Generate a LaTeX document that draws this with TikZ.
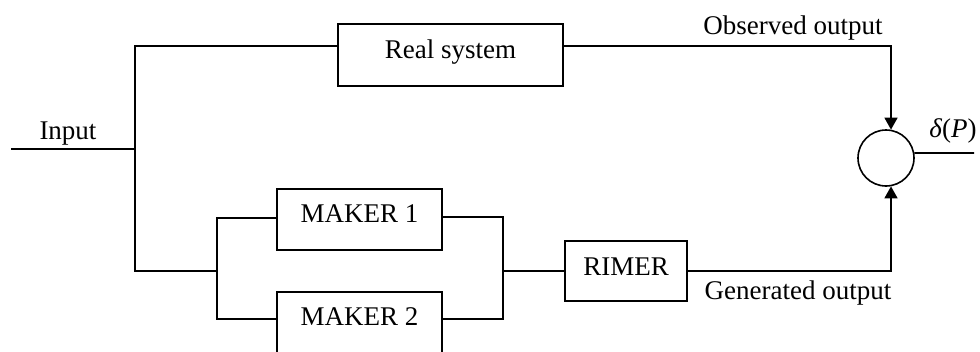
\documentclass[tikz,border=0pt]{standalone}
\usepackage{fontspec}
\setmainfont{Liberation Serif}
\usetikzlibrary{arrows.meta,calc}
\begin{document}
\begin{tikzpicture}[x=1pt,y=-1pt,line width=1.6pt,
  box/.style={draw,line width=1.6pt,inner sep=0pt},
  lbl/.style={anchor=base,inner sep=0pt,font=\fontsize{27}{32}\selectfont},
  arr/.style={-{Triangle[length=12pt,width=13pt]}}]
\useasboundingbox (0,0) rectangle (980,351);
% blocks
\node[box,minimum width=225pt,minimum height=62pt] (rs) at (450.5,55) {};
\node[box,minimum width=165pt,minimum height=61pt] (m1) at (359.5,219.5) {};
\node[box,minimum width=165pt,minimum height=61pt] (m2) at (359.5,322.5) {};
\node[box,minimum width=122pt,minimum height=60pt] (ri) at (626,271) {};
\node[draw,circle,minimum size=56pt,inner sep=0pt] (c) at (886,158) {};
% texts
\node[lbl] (trs) at (450.5,58) {Real system};
\node[lbl] (tm1) at (359.5,222) {MAKER 1};
\node[lbl] (tm2) at (359.5,325) {MAKER 2};
\node[lbl] (tri) at (626,275) {RIMER};
\node[lbl] (tin) at (68,139) {Input};
\node[lbl] (tob) at (793,34) {Observed output};
\node[lbl] (tge) at (798,299) {Generated output};
\node[lbl] (tdp) at (953,137) {{\itshape δ}({\itshape P})};
% coordinates
\coordinate (in) at (11,149);
\coordinate (j1) at (135,149);
\coordinate (j2) at (135,271);
\coordinate (j3) at (217,271);
\coordinate (j4) at (503,271);
\coordinate (rsin) at (338,46);
\coordinate (rsout) at (563,46);
\coordinate (m1w) at (277,218);
\coordinate (m2w) at (277,319);
\coordinate (m1e) at (442,217);
\coordinate (m2e) at (442,319);
\coordinate (out) at (974,153);
% connectors
\draw (in) -- (j1);
\draw (rsin) -| (j2) -- (j3);
\draw (m1w) -| (j3) |- (m2w);
\draw (m1e) -| (j4) |- (m2e);
\draw (j4) -- (ri.west);
\draw[arr] (rsout) -| (c.80);
\draw[arr] (ri.east) -| (c.-80);
\draw (c.10) -- (out);
\end{tikzpicture}
\end{document}
